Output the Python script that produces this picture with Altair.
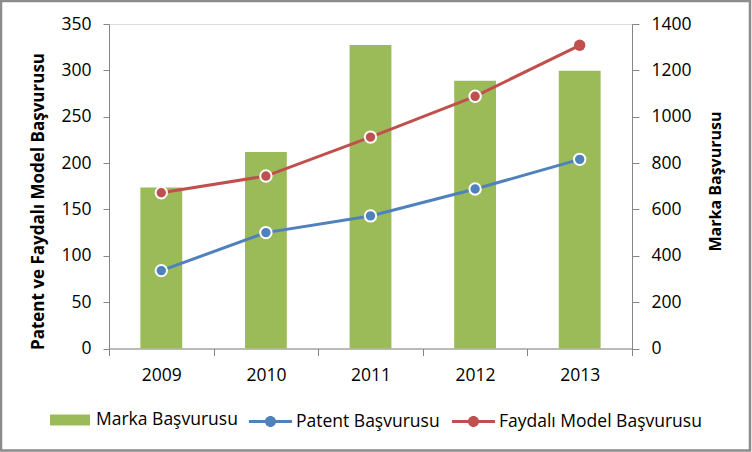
import altair as alt
import pandas as pd

years = ["2009", "2010", "2011", "2012", "2013"]
marka = [695, 848, 1309, 1155, 1198]
patent = [84, 125, 143, 172, 204]
faydali = [168, 186, 228, 272, 327]

s_marka = "Marka Başvurusu"
s_patent = "Patent Başvurusu"
s_faydali = "Faydalı Model Başvurusu"

GREEN = "#9BBB59"
BLUE = "#4F81BD"
RED = "#C0504D"
AXIS = "#868686"
FONT = "Open Sans"

bar_df = pd.DataFrame({"year": years, "value": marka, "kind": [s_marka] * len(years)})
line_df = pd.DataFrame({
    "year": years + years,
    "value": patent + faydali,
    "series": [s_patent] * len(years) + [s_faydali] * len(years),
})

x_enc = alt.X(
    "year:N",
    scale=alt.Scale(paddingInner=0, paddingOuter=0),
    axis=alt.Axis(
        title=None, labelAngle=0, tickBand="extent", tickSize=7,
        labelPadding=11, domainColor=AXIS, tickColor=AXIS,
        labelFontSize=17.5, labelFont=FONT, labelColor="#000",
    ),
)

bars = alt.Chart(bar_df).mark_bar(width=alt.RelativeBandSize(0.4)).encode(
    x=x_enc,
    y=alt.Y(
        "value:Q",
        scale=alt.Scale(domain=[0, 1400], nice=False),
        axis=alt.Axis(
            orient="right", values=list(range(0, 1401, 200)), format="d", grid=False,
            tickSize=7, labelPadding=12, domainColor=AXIS, tickColor=AXIS,
            labelFontSize=17.5, labelFont=FONT, labelColor="#000",
            title=s_marka, titleAngle=270, titleBaseline="middle",
            titleX=83, titleY=157, titleFontSize=16, titleFont=FONT,
            titleFontWeight="bold", titleColor="#000",
        ),
    ),
    color=alt.Color(
        "kind:N",
        scale=alt.Scale(domain=[s_marka], range=[GREEN]),
        legend=alt.Legend(
            title=None, orient="none", legendX=-59, legendY=376,
            symbolType="M-1,-0.27L1,-0.27L1,0.27L-1,0.27Z", symbolSize=1600,
            symbolStrokeWidth=0, labelOffset=6, labelFontSize=17.5,
            labelFont=FONT, labelColor="#000", labelLimit=400,
        ),
    ),
)

y_left = alt.Y(
    "value:Q",
    scale=alt.Scale(domain=[0, 350], nice=False),
    axis=alt.Axis(
        orient="left", values=list(range(0, 351, 50)), grid=False,
        tickSize=6, labelPadding=12, domainColor=AXIS, tickColor=AXIS,
        labelFontSize=17.5, labelFont=FONT, labelColor="#000",
        title="Patent ve Faydalı Model Başvurusu", titleAngle=270,
        titleBaseline="middle", titleX=-71, titleY=177, titleFontSize=17,
        titleFont=FONT, titleFontWeight="bold", titleColor="#000",
    ),
)

legend_path = (
    "M-1,-0.07L1,-0.07L1,0.07L-1,0.07Z"
    "M0.256,0A0.256,0.256,0,1,1,-0.256,0A0.256,0.256,0,1,1,0.256,0Z"
)

line_legend = alt.Legend(
    title=None, orient="none", direction="horizontal",
    legendX=140, legendY=376, symbolType=legend_path, symbolSize=1849,
    symbolStrokeWidth=0, labelOffset=4, columnPadding=12,
    labelFontSize=17.5, labelFont=FONT, labelColor="#000", labelLimit=400,
)

series_scale = alt.Scale(domain=[s_patent, s_faydali], range=[BLUE, RED])

lines = alt.Chart(line_df).mark_line(strokeWidth=3).encode(
    x=alt.X("year:N"),
    y=y_left,
    stroke=alt.Stroke("series:N", scale=series_scale, legend=line_legend),
)

points = alt.Chart(line_df).mark_circle(size=130, opacity=1, stroke="white", strokeWidth=2).encode(
    x=alt.X("year:N"),
    y=alt.Y("value:Q"),
    fill=alt.Fill("series:N", scale=series_scale, legend=line_legend),
    strokeOpacity=alt.condition(
        "datum.year == '2013' && datum.series == '" + s_faydali + "'",
        alt.value(0), alt.value(1),
    ),
)

border = alt.Chart(pd.DataFrame({"a": [0]})).mark_rect(
    fill=None, stroke="#8C8C8C", strokeWidth=2.5
).encode(
    x=alt.value(-108), x2=alt.value(641), y=alt.value(-23), y2=alt.value(426.5)
)

chart = alt.layer(
    bars, alt.layer(lines, points), border
).resolve_scale(y="independent").properties(
    width=523, height=324.5,
    autosize=alt.AutoSizeParams(type="none"),
    padding={"left": 109, "top": 24, "right": 120, "bottom": 103.5},
).configure_view(stroke=None).configure(background="white")

chart.save("out.html", embed_options={"renderer": "svg", "actions": False})
